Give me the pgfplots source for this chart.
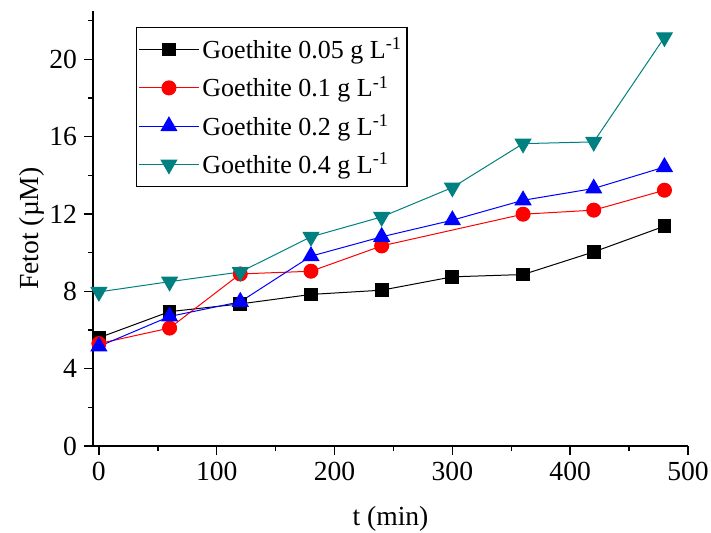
\documentclass[border=0pt]{standalone}
\usepackage{pgfplots}
\pgfplotsset{compat=1.18}
\usepackage{fontspec}
\setmainfont{Liberation Serif}
\definecolor{tealc}{RGB}{0,128,128}
\begin{document}
\begin{tikzpicture}[font=\fontsize{13.8}{16}\selectfont]
\useasboundingbox (-46.5pt,-43pt) rectangle (309pt,223pt);
\begin{axis}[
  scale only axis,
  width=297.5pt, height=217.5pt,
  at={(0,0)}, anchor=south west,
  xmin=-5, xmax=500, ymin=0, ymax=22.5,
  axis x line*=bottom, axis y line*=left,
  axis line style={line width=0.7pt},
  every tick/.style={line width=0.7pt, black},
  tick align=outside,
  major tick length=4.5pt, minor tick length=2.5pt,
  xtick={0,100,...,500}, minor xtick={50,150,...,450},
  ytick={0,4,...,20}, minor ytick={2,6,...,22},
  /pgf/number format/assume math mode=true,
  xlabel={t (min)}, ylabel={Fetot (µM)},
  xlabel style={yshift=-6pt},
  ylabel style={yshift=-4.5pt},
  legend style={at={(0.072,0.963)}, anchor=north west, draw=black, line width=0.6pt,
    row sep=3.3pt, inner xsep=1pt, inner ysep=3pt, nodes={inner xsep=1.5pt},
    font=\fontsize{13}{15}\selectfont},
  legend cell align=left,
  legend image code/.code={\draw[#1] (0pt,0pt) -- (30pt,0pt); \draw[#1, mark repeat=2, mark phase=2] plot coordinates {(0pt,0pt) (15pt,0pt) (30pt,0pt)};},
  every axis plot/.append style={line width=0.5pt},
]
\addplot[black, mark=square*, mark size=3.2pt, mark options={solid}] coordinates {
(0,5.6) (60,6.95) (120,7.35) (180,7.84) (240,8.06) (300,8.75) (360,8.87) (420,10.04) (480,11.37)};
\addlegendentry{Goethite 0.05 g L\textsuperscript{-1}}
\addplot[red, mark=*, mark size=3.5pt] coordinates {
(0,5.3) (60,6.1) (120,8.9) (180,9.04) (240,10.35) (360,11.99) (420,12.2) (480,13.23)};
\addlegendentry{Goethite 0.1 g L\textsuperscript{-1}}
\addplot[blue, mark=triangle*, mark size=4.5pt] coordinates {
(0,5.15) (60,6.7) (120,7.46) (180,9.82) (240,10.82) (300,11.68) (360,12.71) (420,13.32) (480,14.43)};
\addlegendentry{Goethite 0.2 g L\textsuperscript{-1}}
\addplot[tealc, mark=triangle*, mark size=4.5pt, mark options={rotate=180}] coordinates {
(0,7.97) (60,8.5) (120,9.0) (180,10.82) (240,11.85) (300,13.37) (360,15.64) (420,15.73) (480,21.14)};
\addlegendentry{Goethite 0.4 g L\textsuperscript{-1}}
\end{axis}
\end{tikzpicture}
\end{document}
